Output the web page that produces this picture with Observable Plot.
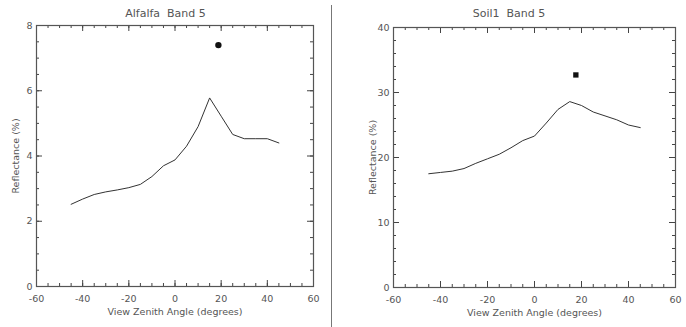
<!DOCTYPE html>
<html>
<head>
<meta charset="utf-8">
<script src="https://cdn.jsdelivr.net/npm/d3@7"></script>
<script src="https://cdn.jsdelivr.net/npm/@observablehq/plot@0.6"></script>
<style>
  html, body { margin: 0; padding: 0; background: #fff; }
  body { width: 686px; height: 327px; overflow: hidden; font-family: "DejaVu Sans", sans-serif; }
  #wrap { display: flex; flex-direction: row; }
  .panel { position: relative; }
  .title { height: 20px; line-height: 28px; font-size: 11px; color: #555; text-align: center; white-space: pre; overflow: visible; }
  #divider { width: 1px; background: #777; margin-top: 5px; height: 322px; }
</style>
</head>
<body>
<div id="wrap">
  <div class="panel" id="left"></div>
  <div id="divider"></div>
  <div class="panel" id="right"></div>
</div>
<script>
const angles = [-45, -40, -35, -30, -25, -20, -15, -10, -5, 0, 5, 10, 15, 20, 25, 30, 35, 40, 45];
const alfalfa = [2.52, 2.68, 2.82, 2.90, 2.96, 3.03, 3.13, 3.37, 3.70, 3.88, 4.30, 4.90, 5.78, 5.22, 4.66, 4.53, 4.53, 4.53, 4.40];
const soil = [17.5, 17.7, 17.9, 18.3, 19.1, 19.8, 20.5, 21.5, 22.6, 23.3, 25.3, 27.4, 28.6, 28.0, 27.0, 26.4, 25.8, 25.0, 24.6];
const hotspotAngle = [18.8, 17.6];
const hotspotValue = [7.4, 32.7];
const titles = ["Alfalfa  Band 5", "Soil1  Band 5"];
const xLabel = "View Zenith Angle (degrees)";
const yLabel = "Reflectance (%)";
const xMajor = [-60, -40, -20, 0, 20, 40, 60];
const xMinor = d3.range(-60, 61, 5);
const yMajorA = [0, 2, 4, 6, 8];
const yMinorA = d3.range(0, 8.01, 0.5);
const yMajorB = [0, 10, 20, 30, 40];
const yMinorB = d3.range(0, 40.01, 2);

const ink = "#555";

function chart({values, yDomain, yMajor, yMinor, hx, hy, symbol, r, width, ml, mr, mt, mb}) {
  const height = 307;
  const iw = width - ml - mr, ih = height - mt - mb;
  const data = angles.map((a, i) => ({a, v: values[i]}));
  const tk = {stroke: "#444", strokeWidth: 1};
  return Plot.plot({
    width, height,
    marginLeft: ml, marginRight: mr, marginTop: mt, marginBottom: mb,
    style: {fontFamily: "DejaVu Sans, sans-serif", fontSize: "9.5px", color: ink, background: "#fff"},
    x: {domain: [-60, 60]},
    y: {domain: yDomain},
    marks: [
      // inward ticks on all four sides
      Plot.tickX(xMinor, {x: d => d, insetTop: ih - 3, ...tk}),
      Plot.tickX(xMinor, {x: d => d, insetBottom: ih - 3, ...tk}),
      Plot.tickX(xMajor, {x: d => d, insetTop: ih - 6, ...tk}),
      Plot.tickX(xMajor, {x: d => d, insetBottom: ih - 6, ...tk}),
      Plot.tickY(yMinor, {y: d => d, insetRight: iw - 3, ...tk}),
      Plot.tickY(yMinor, {y: d => d, insetLeft: iw - 3, ...tk}),
      Plot.tickY(yMajor, {y: d => d, insetRight: iw - 6, ...tk}),
      Plot.tickY(yMajor, {y: d => d, insetLeft: iw - 6, ...tk}),
      Plot.frame({stroke: ink, strokeWidth: 1.2}),
      Plot.axisX({anchor: "bottom", ticks: xMajor, tickSize: 0, tickPadding: 9, tickFormat: d => d, label: xLabel, labelAnchor: "center", labelArrow: "none", labelOffset: 28, fill: ink}),
      Plot.axisY({anchor: "left", ticks: yMajor, tickSize: 0, tickPadding: 4, tickFormat: d => d, label: yLabel, labelAnchor: "center", labelArrow: "none", labelOffset: 24, fill: ink}),
      Plot.line(data, {x: "a", y: "v", stroke: "#333", strokeWidth: 1}),
      Plot.dot(hx.map((x, i) => ({x, y: hy[i]})), {x: "x", y: "y", fill: "#111", stroke: "none", r, symbol})
    ]
  });
}

function panel(id, title, svg) {
  const el = document.getElementById(id);
  const t = document.createElement("div");
  t.className = "title";
  t.textContent = title;
  el.appendChild(t);
  el.appendChild(svg);
}

panel("left", titles[0], chart({
  values: alfalfa, yDomain: [0, 8], yMajor: yMajorA, yMinor: yMinorA,
  hx: [hotspotAngle[0]], hy: [hotspotValue[0]], symbol: "circle", r: 3.2,
  width: 331, ml: 36, mr: 18, mt: 5, mb: 41
}));
panel("right", titles[1], chart({
  values: soil, yDomain: [0, 40], yMajor: yMajorB, yMinor: yMinorB,
  hx: [hotspotAngle[1]], hy: [hotspotValue[1]], symbol: "square", r: 3,
  width: 354, ml: 61, mr: 11, mt: 7, mb: 40
}));
</script>
</body>
</html>
